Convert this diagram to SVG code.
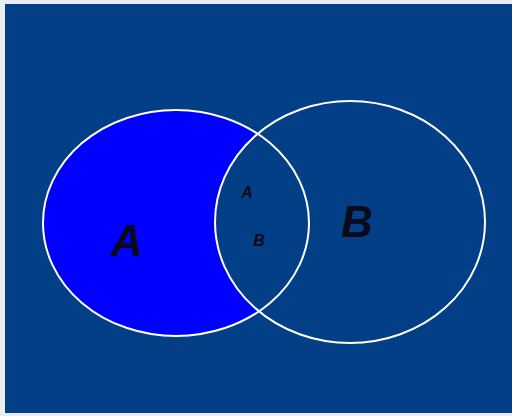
<svg xmlns="http://www.w3.org/2000/svg" width="512" height="416" viewBox="0 0 512 416">
<style>
.ring{fill:none;stroke:#ffffff;stroke-width:2}
.lbl{font-family:"Liberation Sans",Arial,sans-serif;font-style:italic;font-weight:bold;fill:#0a0a1a}
</style>
<rect width="512" height="416" fill="#e8eef4"/>
<rect x="5" y="4" width="507" height="409" fill="#023f86"/>
<g id="A">
<ellipse cx="176" cy="223" rx="133" ry="113" fill="#0000ff"/>
</g>
<g id="B">
<ellipse cx="350" cy="222" rx="135" ry="121" fill="#023f86"/>
</g>
<g id="outlines">
<ellipse class="ring" cx="176" cy="223" rx="133" ry="113"/>
<ellipse class="ring" cx="350" cy="222" rx="135" ry="121"/>
</g>
<g id="labels">
<text class="lbl" x="127" y="256" font-size="44" text-anchor="middle">A</text>
<text class="lbl" x="357" y="237" font-size="44" text-anchor="middle">B</text>
<text class="lbl" x="247" y="198" font-size="16" text-anchor="middle">A</text>
<text class="lbl" x="259" y="246" font-size="16" text-anchor="middle">B</text>
</g>
</svg>
